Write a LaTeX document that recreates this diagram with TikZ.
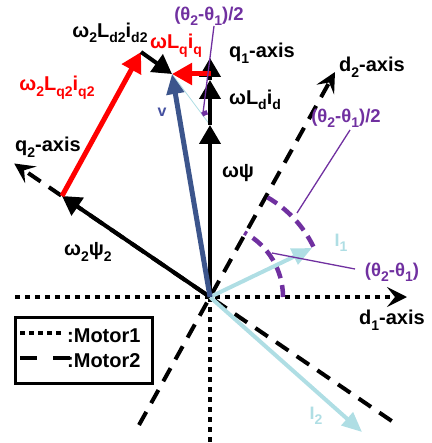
\documentclass[tikz,border=0pt]{standalone}
\usepackage{fontspec}
\setmainfont{Liberation Sans}
\usetikzlibrary{arrows.meta}
\definecolor{mred}{RGB}{255,0,0}
\definecolor{mpurple}{RGB}{112,48,160}
\definecolor{mblue}{RGB}{60,85,140}
\definecolor{vlbl}{RGB}{68,80,160}
\definecolor{lblue}{RGB}{175,222,228}
\newcommand{\sbx}[1]{\raisebox{-0.28em}{\fontsize{14}{14}\selectfont #1}}
\begin{document}
\begin{tikzpicture}[x=1pt,y=-1pt,
  lbl/.style={font=\fontsize{20}{20}\selectfont\bfseries, inner sep=0pt},
  plbl/.style={lbl, text=mpurple, font=\fontsize{18.5}{18.5}\selectfont\bfseries},
  dotaxis/.style={line width=4pt, dash pattern=on 5pt off 5pt},
  dashaxis/.style={line width=4pt, dash pattern=on 15pt off 10pt},
  axtip/.style={-{Stealth[length=20pt,width=20pt,inset=8pt]}},
  bvec/.style={line width=4pt, black, -{Triangle[length=19pt,width=21pt]}},
  rvec/.style={line width=5pt, mred, -{Triangle[length=20pt,width=21pt]}},
  vvec/.style={line width=5pt, mblue, -{Triangle[length=20pt,width=17pt]}},
  ivec/.style={line width=4pt, lblue, -{Triangle[length=20pt,width=17pt]}},
  parc/.style={line width=4.5pt, mpurple, dash pattern=on 12pt off 7pt},
  lead/.style={line width=1.3pt, mpurple}]
\useasboundingbox (0,0) rectangle (431,443);
% points
\coordinate (O) at (210,297);
\coordinate (d1s) at (15,297);
\coordinate (d1t) at (407,297);
\coordinate (q1b) at (210,443);
\coordinate (d2s) at (139,425);
\coordinate (d2t) at (335,72);
\coordinate (q2s) at (391.7,421);
\coordinate (q2t) at (14.2,163.5);
\coordinate (A) at (210,125);
\coordinate (B) at (210,80);
\coordinate (C) at (210,58);
\coordinate (P) at (62,196);
\coordinate (Q) at (141,52);
\coordinate (R) at (172,74);
\coordinate (S) at (211,74);
\coordinate (I1) at (312,248);
\coordinate (I2) at (362,432);
% axes
\draw[dotaxis, axtip] (d1s) -- (d1t);
\draw[dotaxis] (O) -- (q1b);
\draw[dashaxis, axtip] (d2s) -- (d2t);
\draw[dashaxis, axtip] (q2s) -- (q2t);
% angle arcs
\draw[parc] (O) ++(-26:115) arc[start angle=-26, end angle=-60, radius=115];
\draw[parc] (O) ++(0:73) arc[start angle=0, end angle=-62, radius=73];
% currents
\draw[ivec] (O) -- (I1);
\draw[ivec] (O) -- (I2);
% thin line and small arc
\draw[line width=0.8pt, lblue] (R) -- (A);
\draw[line width=4.5pt, mpurple] (A) ++(-102:13) arc[start angle=-102, end angle=-127, radius=13];
% voltage vectors
\draw[bvec] (O) -- (A);
\draw[bvec] (A) -- (B);
\draw[bvec] (B) -- (C);
\draw[bvec] (O) -- (P);
\draw[rvec] (P) -- (Q);
\draw[bvec] (Q) -- (R);
\draw[rvec] (S) -- (R);
\draw[vvec] (O) -- (R);
% leader lines
\coordinate (L1a) at (214,26);
\coordinate (L1b) at (203,113);
\coordinate (L2a) at (350,130);
\coordinate (L2b) at (297,213);
\coordinate (L3a) at (355,269);
\coordinate (L3b) at (272,253);
\draw[lead] (L1a) -- (L1b);
\draw[lead] (L2a) -- (L2b);
\draw[lead] (L3a) -- (L3b);
% labels
\node[plbl] (t1) at (209,16) {(θ\sbx{2}-θ\sbx{1})/2};
\node[plbl] (t2) at (346,118) {(θ\sbx{2}-θ\sbx{1})/2};
\node[plbl] (t3) at (392,272) {(θ\sbx{2}-θ\sbx{1})};
\node[lbl] (l1) at (110,33) {ω\sbx{2}L\sbx{d2}i\sbx{d2}};
\node[lbl, text=mred] (l2) at (176,46) {ωL\sbx{q}i\sbx{q}};
\node[lbl, text=mred] (l3) at (57,88) {ω\sbx{2}L\sbx{q2}i\sbx{q2}};
\node[lbl, text=vlbl, font=\fontsize{16}{16}\selectfont\bfseries] (l4) at (162,112) {v};
\node[lbl] (l5) at (48,147) {q\sbx{2}-axis};
\node[lbl] (l6) at (262,53) {q\sbx{1}-axis};
\node[lbl] (l7) at (255,100) {ωL\sbx{d}i\sbx{d}};
\node[lbl] (l8) at (238,173) {ωψ};
\node[lbl] (l9) at (372,67) {d\sbx{2}-axis};
\node[lbl] (l10) at (88,252) {ω\sbx{2}ψ\sbx{2}};
\node[lbl] (l11) at (392,320) {d\sbx{1}-axis};
\node[lbl, text=lblue, font=\fontsize{18}{18}\selectfont\bfseries] (l12) at (341,243) {I\sbx{1}};
\node[lbl, text=lblue, font=\fontsize{18}{18}\selectfont\bfseries] (l13) at (316,416) {I\sbx{2}};
% legend
\draw[line width=3pt] (15,317) rectangle (152,383);
\coordinate (m1a) at (20,333);
\coordinate (m1b) at (64,333);
\coordinate (m2a) at (20,358);
\coordinate (m2b) at (70,358);
\draw[line width=4pt, dash pattern=on 5pt off 4pt] (m1a) -- (m1b);
\draw[line width=4pt, dash pattern=on 17pt off 16pt] (m2a) -- (m2b);
\node[lbl, anchor=west, font=\fontsize{20}{20}\selectfont\bfseries] (g1) at (67,336) {:Motor1};
\node[lbl, anchor=west, font=\fontsize{20}{20}\selectfont\bfseries] (g2) at (67,361) {:Motor2};
\end{tikzpicture}
\end{document}
